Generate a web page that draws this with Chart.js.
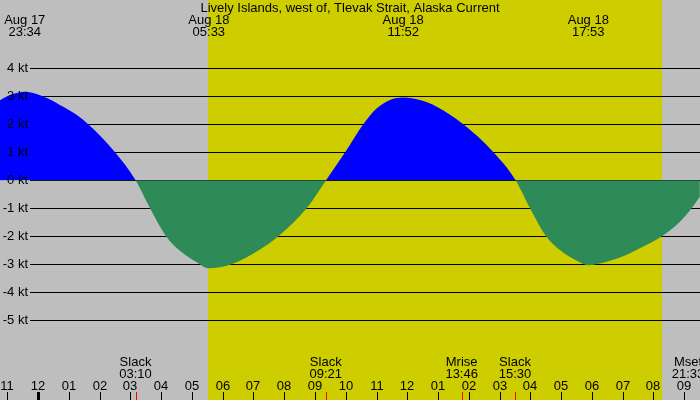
<!DOCTYPE html>
<html>
<head>
<meta charset="utf-8">
<script src="https://cdn.jsdelivr.net/npm/chart.js@4/dist/chart.umd.min.js"></script>
<style>
  html, body { margin: 0; padding: 0; background: #bebebe; }
  canvas { display: block; }
</style>
</head>
<body>
<canvas id="tideChart" width="700" height="400"></canvas>
<script>
// hours counted from Aug 17 00:00
const hours = [22.76, 23.03, 23.58, 24.17, 24.71, 25.26, 25.63, 26.50, 27.17, 27.64, 28.16, 28.61, 29.16, 29.52, 30.29, 31.16, 31.81, 32.73, 33.36, 33.98, 34.57, 35.01, 35.44, 35.87, 36.41, 36.96, 37.82, 38.80, 39.52, 39.99, 40.51, 40.96, 41.51, 41.88, 42.26, 42.91, 43.56, 44.27, 44.86, 45.24, 45.51];
const knots = [2.86, 3.02, 3.16, 2.99, 2.69, 2.33, 2.00, 1.00, 0, -1.00, -2.00, -2.52, -2.93, -3.14, -3.00, -2.51, -2.00, -1.00, 0, 1.00, 2.00, 2.57, 2.87, 2.96, 2.87, 2.63, 2.00, 1.00, 0, -1.00, -2.00, -2.49, -2.87, -3.03, -2.97, -2.76, -2.43, -2.00, -1.48, -1.00, -0.59];

const knotTicks = [4, 3, 2, 1, 0, -1, -2, -3, -4, -5];

const peakTimes = [23.567, 29.55, 35.867, 41.883];
const peakDates = ['Aug 17', 'Aug 18', 'Aug 18', 'Aug 18'];
const peakClock = ['23:34', '05:33', '11:52', '17:53'];

const eventTimes = [27.167, 33.35, 37.767, 39.5, 45.55];
const eventNames = ['Slack', 'Slack', 'Mrise', 'Slack', 'Mset'];
const eventClock = ['03:10', '09:21', '13:46', '15:30', '21:33'];

const sunrise = 29.52;
const sunset = 44.28;

const hourTicks = [];
for (let h = 23; h <= 45; h++) hourTicks.push(h);

const title = 'Lively Islands, west of, Tlevak Strait, Alaska Current';
const FONT = '13px "Liberation Sans", Arial, sans-serif';

const tidePlugin = {
    id: 'tidePlugin',
    beforeDatasetsDraw(chart) {
        const ctx = chart.ctx;
        const xs = chart.scales.x, ys = chart.scales.y;
        const W = chart.width, H = chart.height;
        ctx.save();
        // night / day background
        ctx.fillStyle = '#bebebe';
        ctx.fillRect(0, 0, W, H);
        const x1 = Math.round(xs.getPixelForValue(sunrise));
        const x2 = Math.round(xs.getPixelForValue(sunset));
        ctx.fillStyle = '#cdcd00';
        ctx.fillRect(x1, 0, x2 - x1, H);
        // grid lines
        ctx.strokeStyle = '#000';
        ctx.lineWidth = 1;
        knotTicks.forEach(k => {
            const y = Math.round(ys.getPixelForValue(k)) + 0.5;
            ctx.beginPath();
            ctx.moveTo(30, y);
            ctx.lineTo(W, y);
            ctx.stroke();
        });
        ctx.restore();
    },
    afterDatasetsDraw(chart) {
        const ctx = chart.ctx;
        const xs = chart.scales.x, ys = chart.scales.y;
        const W = chart.width;
        ctx.save();
        ctx.font = FONT;
        ctx.fillStyle = '#000';
        ctx.textBaseline = 'alphabetic';

        // y labels
        ctx.textAlign = 'right';
        knotTicks.forEach(k => {
            const y = Math.round(ys.getPixelForValue(k));
            ctx.fillText(k + ' kt', 28, y + 4);
        });

        // title
        ctx.textAlign = 'center';
        ctx.fillText(title, W / 2, 12);

        // max / min current labels
        peakTimes.forEach((t, i) => {
            const x = xs.getPixelForValue(t);
            ctx.fillText(peakDates[i], x, 24);
            ctx.fillText(peakClock[i], x, 36);
        });

        // slack / moon events
        eventTimes.forEach((t, i) => {
            const px = xs.getPixelForValue(t);
            const x = Math.min(px, W - 12);
            ctx.fillStyle = '#000';
            ctx.fillText(eventNames[i], x, 366);
            ctx.fillText(eventClock[i], x, 378);
            ctx.fillStyle = '#ff0000';
            ctx.fillRect(Math.round(px), 392, 1, 8);
        });

        // hour ticks
        ctx.fillStyle = '#000';
        hourTicks.forEach(h => {
            const x = Math.round(xs.getPixelForValue(h));
            const hh = (h % 12) || 12;
            ctx.fillText(String(hh).padStart(2, '0'), x, 390);
            if (h % 24 === 0) ctx.fillRect(x - 1, 392, 3, 8);
            else ctx.fillRect(x, 392, 1, 8);
        });
        ctx.restore();
    }
};

new Chart(document.getElementById('tideChart'), {
    type: 'line',
    data: {
        datasets: [{
            data: hours.map((h, i) => ({ x: h, y: knots[i] })),
            borderWidth: 0,
            pointRadius: 0,
            cubicInterpolationMode: 'monotone',
            fill: { target: 'origin', above: '#0000ff', below: '#2e8b57' }
        }]
    },
    options: {
        responsive: false,
        animation: false,
        devicePixelRatio: 1,
        layout: { padding: 0 },
        plugins: { legend: { display: false }, tooltip: { enabled: false } },
        scales: {
            x: { type: 'linear', min: 22.763, max: 45.513, display: false },
            y: { type: 'linear', min: -7.846, max: 6.439, display: false }
        }
    },
    plugins: [tidePlugin]
});
</script>
</body>
</html>
